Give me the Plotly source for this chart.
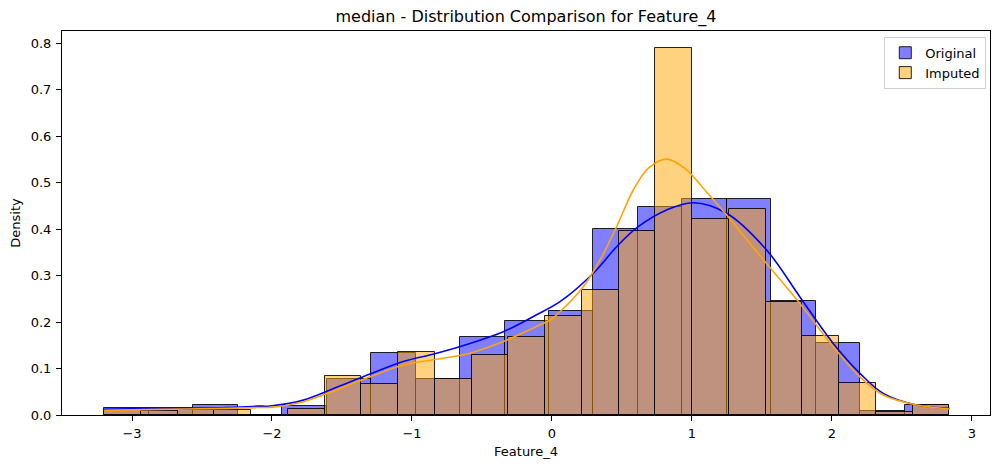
import numpy as np
import plotly.graph_objects as go

# data range of Feature_4 and number of bins used by each histogram
x_min, x_max = -3.198, 2.838
n_bins_orig = 19
n_bins_imp = 23

# histogram heights (density)
orig_density = [0.0157, 0.0157, 0.021, 0.0, 0.0194, 0.0767, 0.1327, 0.0767,
                0.168, 0.203, 0.224, 0.4007, 0.448, 0.4638, 0.4638, 0.2459,
                0.154, 0.0086, 0.0215]
imp_density = [0.0115, 0.008, 0.011, 0.011, 0.0, 0.0136, 0.083, 0.067,
               0.136, 0.0767, 0.13, 0.168, 0.2136, 0.268, 0.3964, 0.7885,
               0.4208, 0.4437, 0.2437, 0.170, 0.068, 0.007, 0.022]

# kde curves
kde_orig_x = [-3.198, -2.8, -2.32, -2.1, -2.014, -1.776, -1.538, -1.3, -1.062,
              -0.824, -0.586, -0.348, -0.114, 0.057, 0.295, 0.462, 0.616, 0.819,
              1.009, 1.248, 1.533, 1.771, 2.009, 2.2, 2.366, 2.605, 2.84]
kde_orig_y = [0.012, 0.0143, 0.0158, 0.019, 0.0194, 0.032, 0.0595, 0.088, 0.115,
              0.1327, 0.154, 0.179, 0.215, 0.2437, 0.305, 0.362, 0.405, 0.441,
              0.4566, 0.434, 0.355, 0.254, 0.154, 0.0896, 0.0466, 0.0215, 0.0143]
kde_imp_x = [-3.198, -2.8, -2.32, -2.1, -2.014, -1.776, -1.538, -1.3, -1.062,
             -0.824, -0.586, -0.348, -0.114, -0.014, 0.0571, 0.224, 0.343, 0.462,
             0.581, 0.693, 0.823, 0.955, 1.098, 1.248, 1.414, 1.533, 1.771,
             2.009, 2.2, 2.366, 2.605, 2.84]
kde_imp_y = [0.010, 0.0122, 0.0143, 0.016, 0.0165, 0.0287, 0.054, 0.0824, 0.1075,
             0.12, 0.133, 0.158, 0.19, 0.204, 0.222, 0.276, 0.333, 0.405,
             0.484, 0.532, 0.5505, 0.529, 0.482, 0.430, 0.369, 0.326, 0.240,
             0.147, 0.082, 0.043, 0.0215, 0.013]

edges_orig = np.linspace(x_min, x_max, n_bins_orig + 1)
edges_imp = np.linspace(x_min, x_max, n_bins_imp + 1)

fig = go.Figure()

fig.add_trace(go.Bar(
    x=(edges_orig[:-1] + edges_orig[1:]) / 2,
    y=orig_density,
    width=np.diff(edges_orig),
    name='Original',
    marker=dict(color='rgba(0,0,255,0.5)',
                line=dict(color='rgba(0,0,0,0.85)', width=1)),
))
fig.add_trace(go.Bar(
    x=(edges_imp[:-1] + edges_imp[1:]) / 2,
    y=imp_density,
    width=np.diff(edges_imp),
    name='Imputed',
    marker=dict(color='rgba(255,165,0,0.5)',
                line=dict(color='rgba(0,0,0,0.85)', width=1)),
))
fig.add_trace(go.Scatter(x=kde_orig_x, y=kde_orig_y, mode='lines',
                         line=dict(color='blue', width=1.6, shape='spline'),
                         showlegend=False, hoverinfo='skip'))
fig.add_trace(go.Scatter(x=kde_imp_x, y=kde_imp_y, mode='lines',
                         line=dict(color='orange', width=1.6, shape='spline'),
                         showlegend=False, hoverinfo='skip'))

axis_style = dict(showline=True, mirror=True, linecolor='black', linewidth=1,
                  ticks='outside', ticklen=5, tickcolor='black', showgrid=False,
                  zeroline=False, tickfont=dict(size=13, color='black'))

fig.update_layout(
    width=1001, height=468,
    margin=dict(l=62, r=11, t=31, b=53),
    barmode='overlay', bargap=0,
    plot_bgcolor='white', paper_bgcolor='white',
    font=dict(family='DejaVu Sans', color='black'),
    title=dict(text='median - Distribution Comparison for Feature_4',
               xref='paper', x=0.5, xanchor='center',
               yref='container', y=1 - 16 / 468, yanchor='middle',
               font=dict(size=16)),
    legend=dict(x=0.996, y=0.985, xanchor='right', yanchor='top',
                bgcolor='white', bordercolor='#d0d0d0', borderwidth=1,
                font=dict(size=13)),
    xaxis=dict(range=[-3.5, 3.129], tickmode='array',
               tickvals=[-3, -2, -1, 0, 1, 2, 3], ticklabelstandoff=1,
               title=dict(text='Feature_4', font=dict(size=13), standoff=7),
               **axis_style),
    yaxis=dict(range=[0, 0.826], tickmode='array',
               tickvals=[0, 0.1, 0.2, 0.3, 0.4, 0.5, 0.6, 0.7, 0.8],
               tickformat='.1f', ticklabelstandoff=2,
               title=dict(text='Density', font=dict(size=13), standoff=7),
               **axis_style),
)

# drop the page's default body margin so the figure fills the window
fig.write_html('out.html', config={'displayModeBar': False},
               post_script="document.body.style.margin='0';")
